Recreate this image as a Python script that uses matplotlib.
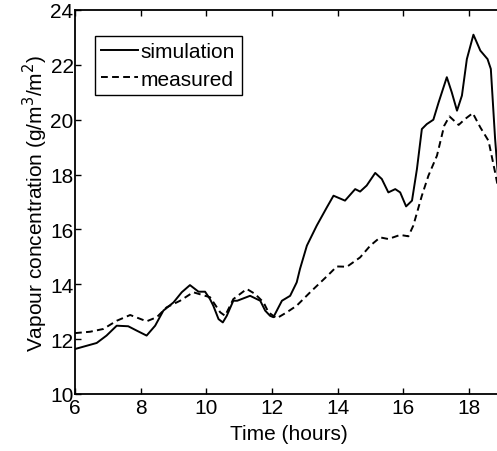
import matplotlib.pyplot as plt

# time axis (hours) and vapour concentration
sim_t = [6.0, 6.66, 6.96, 7.27, 7.62, 7.88, 8.18, 8.44, 8.69, 9.0, 9.25, 9.5,
         9.76, 9.96, 10.11, 10.21, 10.37, 10.5, 10.62, 10.82, 10.94, 11.33,
         11.64, 11.79, 11.94, 12.04, 12.3, 12.55, 12.75, 12.85, 13.06, 13.36,
         13.67, 13.87, 14.22, 14.53, 14.68, 14.88, 15.14, 15.34, 15.54, 15.75,
         15.9, 16.08, 16.26, 16.41, 16.56, 16.71, 16.91, 17.07, 17.32, 17.47,
         17.63, 17.78, 17.93, 18.13, 18.34, 18.56, 18.66, 18.79, 18.9]
sim_v = [11.64, 11.86, 12.13, 12.49, 12.47, 12.31, 12.13, 12.49, 13.04, 13.34,
         13.71, 13.97, 13.73, 13.73, 13.46, 13.22, 12.73, 12.61, 12.85, 13.4,
         13.4, 13.58, 13.4, 13.04, 12.85, 12.8, 13.4, 13.58, 14.07, 14.56,
         15.41, 16.14, 16.81, 17.23, 17.05, 17.47, 17.38, 17.6, 18.06, 17.84,
         17.35, 17.47, 17.35, 16.84, 17.05, 18.2, 19.66, 19.84, 20.0, 20.63,
         21.55, 21.0, 20.33, 20.88, 22.21, 23.1, 22.52, 22.21, 21.85, 19.3, 17.6]

meas_t = [6.0, 6.46, 6.86, 7.27, 7.68, 8.18, 8.49, 8.79, 9.2, 9.6, 9.96, 10.11,
          10.42, 10.57, 10.82, 11.23, 11.48, 11.74, 11.89, 12.14, 12.45, 12.75,
          13.16, 13.72, 13.97, 14.28, 14.68, 14.99, 15.29, 15.54, 15.9, 16.15,
          16.3, 16.56, 16.76, 17.02, 17.24, 17.4, 17.68, 17.88, 18.11, 18.34,
          18.59, 18.79, 18.9]
meas_v = [12.22, 12.27, 12.37, 12.67, 12.88, 12.65, 12.8, 13.16, 13.4, 13.71,
          13.58, 13.53, 12.98, 12.85, 13.46, 13.83, 13.65, 13.34, 12.98, 12.76,
          12.98, 13.22, 13.71, 14.35, 14.65, 14.64, 14.98, 15.41, 15.71, 15.65,
          15.8, 15.75, 16.14, 17.23, 17.96, 18.69, 19.78, 20.12, 19.81, 20.03,
          20.24, 19.72, 19.23, 18.08, 17.4]

xticks = [6, 8, 10, 12, 14, 16, 18]
yticks = [10, 12, 14, 16, 18, 20, 22, 24]

plt.rcParams['font.family'] = ['Liberation Sans', 'DejaVu Sans']

fig = plt.figure(figsize=(4.97, 4.52), dpi=100)
ax = fig.add_axes([75 / 497, 1 - 395 / 452, 427 / 497, 384 / 452])

ax.plot(sim_t, sim_v, color='black', lw=1.4, label='simulation')
ax.plot(meas_t, meas_v, color='black', lw=1.4, linestyle=(0, (3.5, 2.2)),
        label='measured')

ax.set_xlim(6, 19)
ax.set_ylim(10, 24)
ax.set_xticks(xticks)
ax.set_yticks(yticks)
ax.tick_params(direction='in', top=True, right=False, labelsize=15,
               length=4, width=1)
ax.tick_params(axis='x', pad=3)
ax.tick_params(axis='y', pad=1)
for s in ax.spines.values():
    s.set_linewidth(1.3)

ax.set_xlabel('Time (hours)', fontsize=15, labelpad=5)
ax.set_ylabel('Vapour concentration (g/m$^3$/m$^2$)', fontsize=15, labelpad=0)

leg = ax.legend(loc='upper left', bbox_to_anchor=(0.047, 0.932), fontsize=15,
                handlelength=1.75, handletextpad=0.15, borderpad=0.3,
                labelspacing=0.4, borderaxespad=0, fancybox=False,
                framealpha=1, edgecolor='black')
leg.get_frame().set_linewidth(1.0)

fig.savefig('out.png', dpi=100)
